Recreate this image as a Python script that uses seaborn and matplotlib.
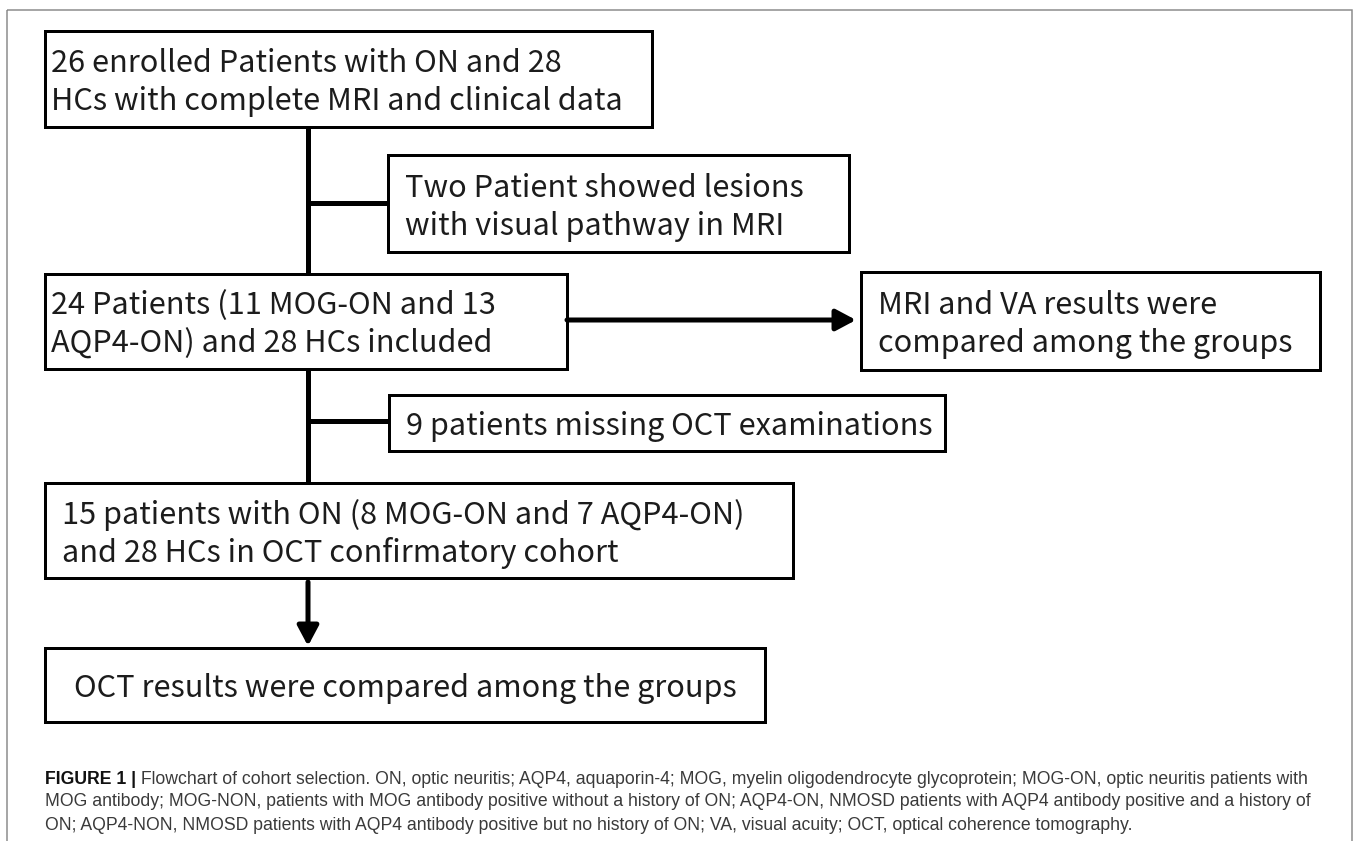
import matplotlib
matplotlib.use("Agg")
import matplotlib.pyplot as plt
import seaborn as sns
from matplotlib.patches import Rectangle
from matplotlib import font_manager

# ---------------- content ----------------
box_main_1 = ["26 enrolled Patients with ON and 28", "HCs with complete MRI and clinical data"]
box_excl_1 = ["Two Patient showed lesions", "with visual pathway in MRI"]
box_main_2 = ["24 Patients (11 MOG-ON and 13", "AQP4-ON) and 28 HCs included"]
box_side_2 = ["MRI and VA results were", "compared among the groups"]
box_excl_2 = ["9 patients missing OCT examinations"]
box_main_3 = ["15 patients with ON (8 MOG-ON and 7 AQP4-ON)", "and 28 HCs in OCT confirmatory cohort"]
box_main_4 = ["OCT results were compared among the groups"]

caption_bold = "FIGURE 1 |"
caption_lines = [
    " Flowchart of cohort selection. ON, optic neuritis; AQP4, aquaporin-4; MOG, myelin oligodendrocyte glycoprotein; MOG-ON, optic neuritis patients with",
    "MOG antibody; MOG-NON, patients with MOG antibody positive without a history of ON; AQP4-ON, NMOSD patients with AQP4 antibody positive and a history of",
    "ON; AQP4-NON, NMOSD patients with AQP4 antibody positive but no history of ON; VA, visual acuity; OCT, optical coherence tomography.",
]

# ---------------- style ----------------
sns.set_theme(style="white")
avail = {f.name for f in font_manager.fontManager.ttflist}
BOX_FONT = ["Noto Sans CJK SC", "DejaVu Sans"]
CAP_FONT = ["Liberation Sans Narrow", "Liberation Sans", "DejaVu Sans"] if "Liberation Sans Narrow" in avail else ["Liberation Sans", "DejaVu Sans"]
BOX_WEIGHT = "normal"

W, H = 1357, 841
fig = plt.figure(figsize=(W / 100, H / 100), dpi=100)
ax = fig.add_axes([0, 0, 1, 1])
ax.set_xlim(0, W)
ax.set_ylim(H, 0)
ax.axis("off")
renderer = fig.canvas.get_renderer()

def px(v):
    return v * 72 / 100

def text_width(s, size, family, weight="normal"):
    t = ax.text(0, 0, s, fontsize=size, family=family, weight=weight)
    w = t.get_window_extent(renderer).width
    t.remove()
    return w

# font sizes fitted to the reference widths
box_fs = 10 * 571 / text_width(box_main_1[1], 10, BOX_FONT, BOX_WEIGHT)
cap_fs = 10 * 1268 / (text_width(caption_bold, 10, CAP_FONT, "bold") + text_width(caption_lines[0], 10, CAP_FONT))

# outer frame
ax.add_patch(Rectangle((7, 10), 1345, 840, fill=False, edgecolor="#8a8a8a", lw=px(1.5)))

BOX_LW = px(3)
LINE_LW = px(5)
TEXT_COLOR = "#1c1c1c"

def box(x0, y0, x1, y1, lines, pad=17, align="left", spacing=38):
    ax.add_patch(Rectangle((x0, y0), x1 - x0, y1 - y0, fill=False, edgecolor="black", lw=BOX_LW, zorder=3))
    cy = (y0 + y1) / 2
    n = len(lines)
    for i, s in enumerate(lines):
        y = cy + (i - (n - 1) / 2) * spacing
        if align == "left":
            ax.text(x0 + pad, y, s, fontsize=box_fs, family=BOX_FONT, weight=BOX_WEIGHT,
                    color=TEXT_COLOR, va="center_baseline", ha="left")
        else:
            ax.text((x0 + x1) / 2, y, s, fontsize=box_fs, family=BOX_FONT, weight=BOX_WEIGHT,
                    color=TEXT_COLOR, va="center_baseline", ha="center")

VX = 308
box(45, 31, 652, 127, box_main_1, pad=6)
box(388, 155, 849, 252, box_excl_1)
box(45, 274, 567, 369, box_main_2, pad=6)
box(861, 272, 1320, 370, box_side_2)
box(389, 395, 945, 451, box_excl_2)
box(45, 483, 793, 578, box_main_3)
box(45, 648, 765, 722, box_main_4, align="center")

# connectors
ax.plot([VX, VX], [127, 274], color="black", lw=LINE_LW, solid_capstyle="butt", zorder=2)
ax.plot([VX, VX], [369, 483], color="black", lw=LINE_LW, solid_capstyle="butt", zorder=2)
ax.plot([VX, 388], [203, 203], color="black", lw=LINE_LW, solid_capstyle="butt", zorder=2)
ax.plot([VX, 389], [421, 421], color="black", lw=LINE_LW, solid_capstyle="butt", zorder=2)

arrow = dict(arrowstyle="-|>,head_length=0.6,head_width=0.32", lw=LINE_LW, color="black",
             shrinkA=0, shrinkB=0, mutation_scale=20)
ax.annotate("", xy=(856, 320), xytext=(567, 320), arrowprops=arrow, zorder=2)
ax.annotate("", xy=(VX, 646), xytext=(VX, 582), arrowprops=arrow, zorder=2)

# caption
cap_y = [777, 800, 823]
bw = text_width(caption_bold, cap_fs, CAP_FONT, "bold")
ax.text(45, cap_y[0], caption_bold, fontsize=cap_fs, family=CAP_FONT, weight="bold", color="#111111", va="center_baseline")
ax.text(45 + bw, cap_y[0], caption_lines[0], fontsize=cap_fs, family=CAP_FONT, color="#3a3a3a", va="center_baseline")
for y, s in zip(cap_y[1:], caption_lines[1:]):
    ax.text(45, y, s, fontsize=cap_fs, family=CAP_FONT, color="#3a3a3a", va="center_baseline")

fig.savefig("out.png", dpi=100)
